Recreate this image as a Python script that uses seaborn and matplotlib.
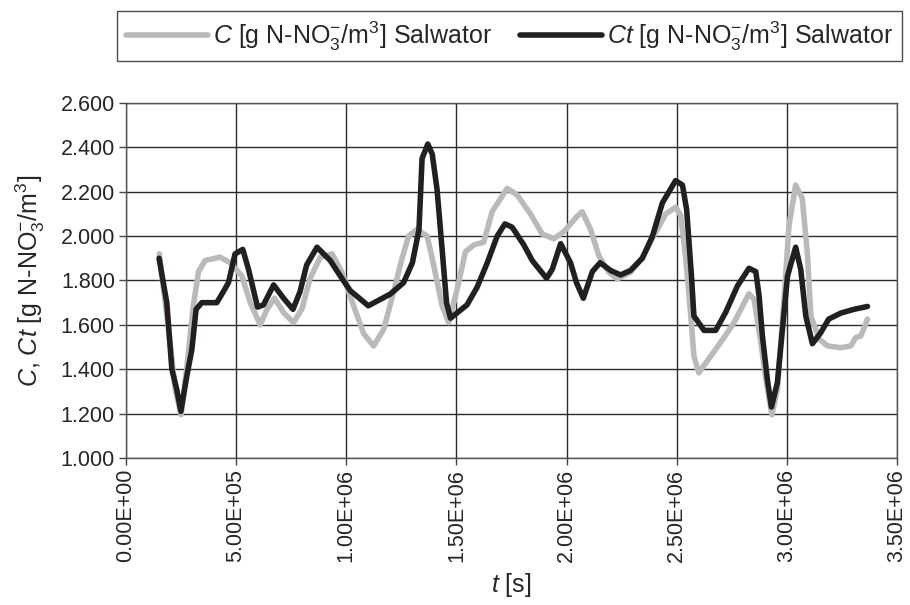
import matplotlib
matplotlib.use('Agg')
import matplotlib.pyplot as plt
import matplotlib.ticker as mticker
import seaborn as sns
import numpy as np

# values
t_c = [1.51e5, 2.0e5, 2.23e5, 2.5e5, 2.76e5, 3.06e5, 3.29e5, 3.59e5, 4.27e5, 4.73e5,
       5.26e5, 5.64e5, 6.09e5, 6.4e5, 6.74e5, 7.15e5, 7.6e5, 7.98e5, 8.36e5, 8.82e5,
       9.35e5, 9.8e5, 1.033e6, 1.079e6, 1.124e6, 1.17e6, 1.215e6, 1.253e6, 1.283e6, 1.32e6,
       1.367e6, 1.397e6, 1.435e6, 1.465e6, 1.503e6, 1.541e6, 1.579e6, 1.624e6, 1.662e6, 1.73e6,
       1.776e6, 1.836e6, 1.889e6, 1.942e6, 1.988e6, 2.048e6, 2.071e6, 2.109e6, 2.147e6, 2.192e6,
       2.23e6, 2.29e6, 2.344e6, 2.397e6, 2.45e6, 2.495e6, 2.518e6, 2.54e6, 2.564e6, 2.578e6,
       2.6e6, 2.655e6, 2.715e6, 2.76e6, 2.828e6, 2.851e6, 2.882e6, 2.905e6, 2.932e6, 2.957e6,
       2.988e6, 3.01e6, 3.04e6, 3.07e6, 3.094e6, 3.109e6, 3.147e6, 3.185e6, 3.245e6, 3.29e6,
       3.313e6, 3.336e6, 3.366e6]
c_vals = [1.92, 1.52, 1.31, 1.195, 1.41, 1.69, 1.84, 1.89, 1.905, 1.88,
          1.82, 1.70, 1.60, 1.67, 1.72, 1.656, 1.61, 1.67, 1.81, 1.905,
          1.92, 1.837, 1.686, 1.56, 1.505, 1.58, 1.75, 1.90, 2.00, 2.03,
          2.00, 1.867, 1.686, 1.61, 1.76, 1.93, 1.96, 1.973, 2.11, 2.215,
          2.185, 2.10, 2.01, 1.988, 2.02, 2.09, 2.11, 2.03, 1.91, 1.837,
          1.807, 1.837, 1.905, 2.003, 2.10, 2.13, 2.094, 1.91, 1.64, 1.46,
          1.384, 1.46, 1.543, 1.61, 1.74, 1.716, 1.52, 1.354, 1.195, 1.31,
          1.73, 2.05, 2.23, 2.17, 1.91, 1.64, 1.535, 1.505, 1.497, 1.505,
          1.543, 1.55, 1.626]

t_ct = [1.5e5, 1.85e5, 2.08e5, 2.3e5, 2.49e5, 2.76e5, 2.99e5, 3.18e5, 3.44e5, 4.12e5,
        4.42e5, 4.65e5, 4.95e5, 5.3e5, 5.56e5, 5.97e5, 6.24e5, 6.7e5, 7.15e5, 7.58e5,
        7.9e5, 8.2e5, 8.67e5, 9.27e5, 9.73e5, 1.018e6, 1.10e6, 1.2e6, 1.26e6, 1.30e6,
        1.33e6, 1.344e6, 1.37e6, 1.39e6, 1.412e6, 1.435e6, 1.455e6, 1.473e6, 1.548e6, 1.594e6,
        1.64e6, 1.685e6, 1.72e6, 1.753e6, 1.806e6, 1.844e6, 1.909e6, 1.935e6, 1.973e6, 2.018e6,
        2.045e6, 2.076e6, 2.117e6, 2.152e6, 2.2e6, 2.245e6, 2.29e6, 2.344e6, 2.39e6, 2.435e6,
        2.495e6, 2.526e6, 2.545e6, 2.567e6, 2.578e6, 2.624e6, 2.677e6, 2.722e6, 2.776e6, 2.828e6,
        2.859e6, 2.874e6, 2.889e6, 2.912e6, 2.93e6, 2.957e6, 2.98e6, 3.003e6, 3.04e6, 3.063e6,
        3.086e6, 3.116e6, 3.154e6, 3.19e6, 3.245e6, 3.305e6, 3.366e6]
ct_vals = [1.90, 1.70, 1.40, 1.31, 1.21, 1.37, 1.49, 1.67, 1.70, 1.70,
           1.75, 1.79, 1.92, 1.94, 1.85, 1.68, 1.69, 1.78, 1.72, 1.67,
           1.75, 1.87, 1.95, 1.89, 1.82, 1.754, 1.686, 1.739, 1.79, 1.88,
           2.03, 2.35, 2.415, 2.37, 2.21, 1.94, 1.70, 1.63, 1.69, 1.77,
           1.88, 2.00, 2.055, 2.04, 1.96, 1.89, 1.81, 1.85, 1.966, 1.88,
           1.79, 1.72, 1.84, 1.88, 1.845, 1.825, 1.845, 1.90, 2.00, 2.15,
           2.25, 2.23, 2.12, 1.82, 1.64, 1.575, 1.575, 1.656, 1.776, 1.855,
           1.84, 1.73, 1.55, 1.35, 1.23, 1.34, 1.58, 1.82, 1.95, 1.85,
           1.64, 1.515, 1.565, 1.626, 1.653, 1.67, 1.683]

x_ticks = np.arange(0, 3.5e6 + 1, 5e5)
y_ticks = np.arange(1.0, 2.6 + 0.001, 0.2)

sns.set_style('white')
plt.rcParams['font.family'] = ['Liberation Sans', 'DejaVu Sans']
plt.rcParams['mathtext.fontset'] = 'custom'
plt.rcParams['mathtext.rm'] = 'Liberation Sans'
plt.rcParams['mathtext.it'] = 'Liberation Sans:italic'

fig = plt.figure(figsize=(9.1, 6.05), dpi=100)
ax = fig.add_axes([0.1385, 0.243, 0.8472, 0.5868])

lab_c = r'$\it{C}$ [g N-NO$_3^{-}$/m$^3$] Salwator'
lab_ct = r'$\it{Ct}$ [g N-NO$_3^{-}$/m$^3$] Salwator'

sns.lineplot(x=t_c, y=c_vals, ax=ax, color='#b9babc', lw=4.0, label=lab_c, sort=False)
sns.lineplot(x=t_ct, y=ct_vals, ax=ax, color='#231f20', lw=4.0, label=lab_ct, sort=False)

ax.set_xlim(0, 3.5e6)
ax.set_ylim(1.0, 2.6)
ax.set_xticks(x_ticks)
ax.set_yticks(y_ticks)
ax.xaxis.set_major_formatter(mticker.FuncFormatter(lambda v, p: '%.2E' % v))
ax.yaxis.set_major_formatter(mticker.FormatStrFormatter('%.3f'))
ax.tick_params(axis='x', labelrotation=90, labelsize=15.5, direction='out', length=5, width=1,
               color='#444444', bottom=True, pad=3)
ax.tick_params(axis='y', labelsize=15.5, direction='out', length=5, width=1,
               color='#444444', left=True, pad=3)

ax.grid(True, color='#2b2b2b', lw=1.0)
for s in ax.spines.values():
    s.set_color('#555555')
    s.set_linewidth(1.0)

ax.set_xlabel(r'$\it{t}$ [s]', fontsize=18, labelpad=6)
ax.set_ylabel(r'$\it{C}$, $\it{Ct}$ [g N-NO$_3^{-}$/m$^3$]', fontsize=18, labelpad=10)

leg = ax.legend(loc='center', bbox_to_anchor=(0.560, 0.9405), bbox_transform=fig.transFigure,
                ncol=2, fontsize=18, frameon=True, fancybox=False,
                edgecolor='#222222', handlelength=3.3, columnspacing=1.1, borderpad=0.35,
                handletextpad=0.2, borderaxespad=0)
leg.get_frame().set_linewidth(1.0)

fig.savefig('out.png', dpi=100)
